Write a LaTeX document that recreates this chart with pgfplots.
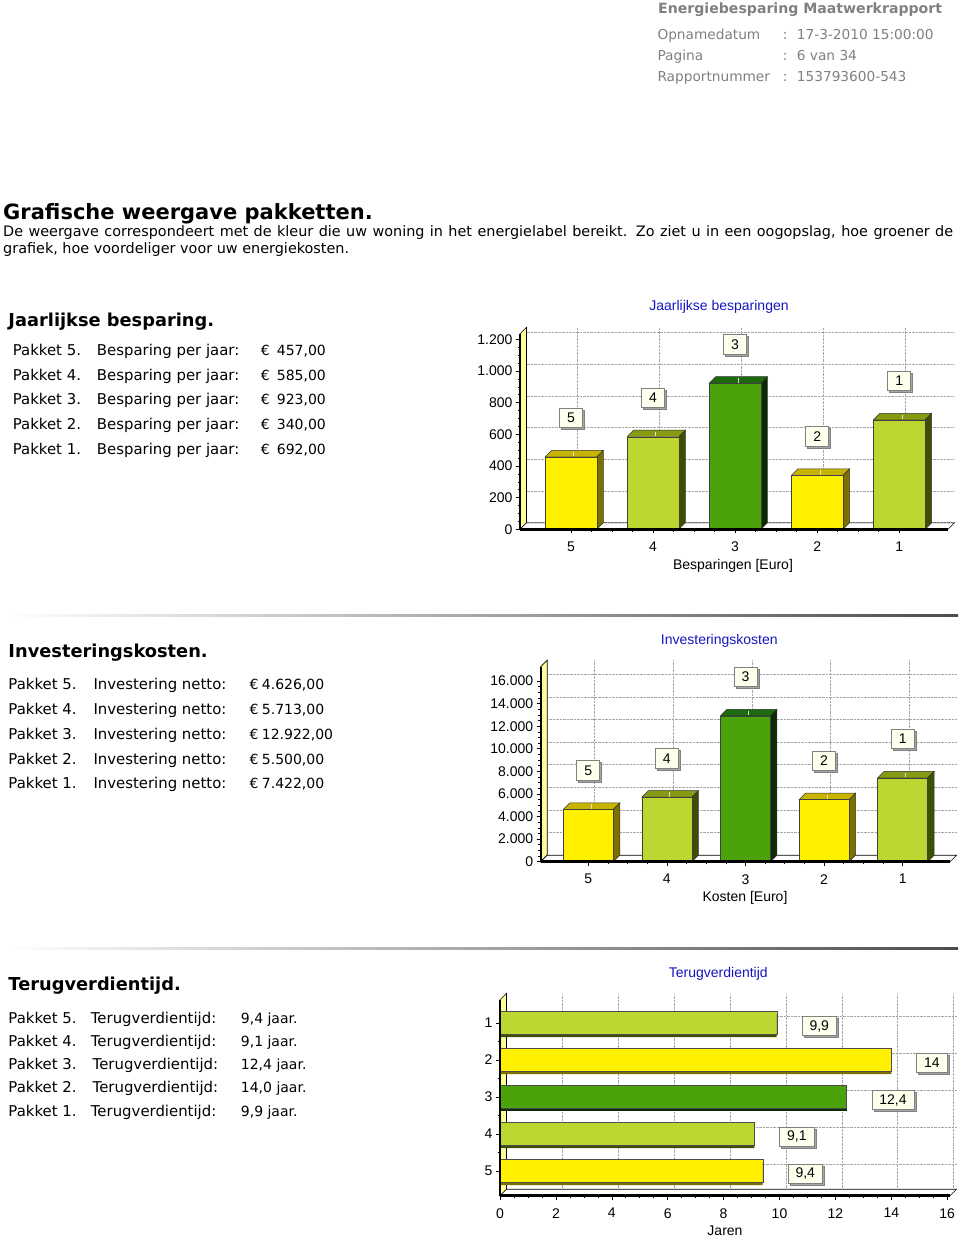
\documentclass[border=0pt]{standalone}
\usepackage{fontspec}
\setmainfont{Liberation Sans}
\newfontfamily\dv{DejaVu Sans}
\usepackage{pgfplots}
\pgfplotsset{compat=1.18}
\usetikzlibrary{shadows}

\definecolor{yfront}{HTML}{FFF000}
\definecolor{ytop}{HTML}{C8B400}
\definecolor{yside}{HTML}{7D7000}
\definecolor{lfront}{HTML}{BED631}
\definecolor{ltop}{HTML}{879A12}
\definecolor{lside}{HTML}{3D5000}
\definecolor{dfront}{HTML}{4CA20B}
\definecolor{dtop}{HTML}{1C6A0C}
\definecolor{dside}{HTML}{0B2B03}
\definecolor{wallc}{HTML}{FFFF99}
\definecolor{boxfill}{HTML}{FFFFEE}
\definecolor{titleblue}{HTML}{1515C0}
\definecolor{hdrgray}{HTML}{808080}

\tikzset{valbox/.style={draw=black!50, fill=boxfill, line width=0.6pt,
  inner xsep=7.5pt, inner ysep=0pt, minimum height=19.5pt, minimum width=23pt,
  font=\fontsize{14}{14}\selectfont, text=black,
  drop shadow={shadow xshift=2pt, shadow yshift=-2pt, fill=black!35, opacity=1}}}

\pgfplotsset{barchart/.style={
  scale only axis, clip=false,
  axis x line*=bottom, axis y line*=left,
  axis line style={black, line width=1.5pt},
  tick align=outside, major tick length=4pt, minor tick length=2.5pt,
  tick style={black, line width=0.6pt},
  major grid style={densely dotted, black!35, line width=0.8pt, xshift=6.5pt, yshift=6.5pt},
  xmajorgrids, ymajorgrids,
  tick label style={font=\fontsize{14}{14}\selectfont},
  xticklabel style={yshift=-5pt},
  /pgf/number format/.cd, assume math mode=true, use comma, 1000 sep={.},
  /pgfplots/.cd, scaled ticks=false,
}}

% 3D top and side of a vertical bar: x, value, top colour, side colour, half width
\newcommand\tdbar[5]{%
  \filldraw[fill=#3, draw=black!80, line width=0.5pt]
    ([xshift=-#5]axis cs:#1,#2) -- ([xshift=#5]axis cs:#1,#2)
    -- ([xshift={#5+6.5pt}, yshift=6.5pt]axis cs:#1,#2)
    -- ([xshift={-#5+6.5pt}, yshift=6.5pt]axis cs:#1,#2) -- cycle;
  \filldraw[fill=#4, draw=black!80, line width=0.5pt]
    ([xshift=#5]axis cs:#1,#2) -- ([xshift={#5+6.5pt}, yshift=6.5pt]axis cs:#1,#2)
    -- ([xshift={#5+6.5pt}, yshift=6.5pt]axis cs:#1,0) -- ([xshift=#5]axis cs:#1,0) -- cycle;
  \draw[white!75!gray, line width=1pt] ([xshift=3pt, yshift=0.5pt]axis cs:#1,#2) -- ([xshift=3pt, yshift=5pt]axis cs:#1,#2);
}
\newcommand\wallfloor{%
  \filldraw[fill=wallc, draw=black, line width=0.6pt] (rel axis cs:0,0) -- (rel axis cs:0,1)
    -- ([shift={(6.5pt,6.5pt)}]rel axis cs:0,1) -- ([shift={(6.5pt,6.5pt)}]rel axis cs:0,0) -- cycle;
  \filldraw[fill=white, draw=black, line width=0.6pt] (rel axis cs:0,0) -- (rel axis cs:1,0)
    -- ([shift={(6.5pt,6.5pt)}]rel axis cs:1,0) -- ([shift={(6.5pt,6.5pt)}]rel axis cs:0,0) -- cycle;
}
\newcommand\frontlines{%
  \draw[line width=2.5pt] (rel axis cs:0,0) -- (rel axis cs:1,0);
  \draw[line width=1.8pt] (rel axis cs:0,0) -- (rel axis cs:0,1);
}
\newcommand\T[4]{\node[anchor=base west, inner sep=0pt, font=#1] at (#2,#3) {#4};}
\newcommand\fr{\dv\fontsize{14.9}{14.9}\selectfont}
\newcommand\fv{\dv\fontsize{14}{14}\selectfont}
\newcommand\fh{\dv\bfseries\fontsize{17.8}{17.8}\selectfont}
\newcommand\fg{\color{hdrgray}\dv\fontsize{13.7}{13.7}\selectfont}

\begin{document}
\begin{tikzpicture}
\useasboundingbox (0,0) rectangle (960pt,-1237pt);

\begin{scope}[x=1pt, y=-1pt]
% header
\T{\color{hdrgray}\dv\bfseries\fontsize{14.1}{14.1}\selectfont}{658}{13.3}{Energiebesparing Maatwerkrapport}
\T{\fg}{657.3}{39.3}{Opnamedatum}
\T{\fg}{782.7}{39.3}{:}
\T{\fg}{796.7}{39.3}{17-3-2010 15:00:00}
\T{\fg}{657.3}{60}{Pagina}
\T{\fg}{782.7}{60}{:}
\T{\fg}{796.7}{60}{6 van 34}
\T{\fg}{657.3}{81.7}{Rapportnummer}
\T{\fg}{782.7}{81.7}{:}
\T{\fg}{796.7}{81.7}{153793600-543}

% intro
\T{\dv\bfseries\fontsize{21}{21}\selectfont}{3}{219}{Grafische weergave pakketten.}
\T{\dv\fontsize{14.4}{14.4}\selectfont}{3}{236}{\makebox[950pt][s]{De weergave correspondeert met de kleur die uw woning in het energielabel bereikt. Zo ziet u in een oogopslag, hoe groener de}}
\T{\dv\fontsize{14.4}{14.4}\selectfont}{3}{253.3}{grafiek, hoe voordeliger voor uw energiekosten.}

% section 1
\T{\fh}{8.3}{326}{Jaarlijkse besparing.}
\T{\fr}{12.7}{355}{Pakket 5.}
\T{\fr}{12.7}{380}{Pakket 4.}
\T{\fr}{12.7}{404.3}{Pakket 3.}
\T{\fr}{12.7}{429}{Pakket 2.}
\T{\fr}{12.7}{454}{Pakket 1.}
\T{\fr}{96.7}{355}{Besparing per jaar:}
\T{\fr}{96.7}{380}{Besparing per jaar:}
\T{\fr}{96.7}{404.3}{Besparing per jaar:}
\T{\fr}{96.7}{429}{Besparing per jaar:}
\T{\fr}{96.7}{454}{Besparing per jaar:}
\T{\fv}{260.7}{355}{€}
\T{\fv}{260.7}{380}{€}
\T{\fv}{260.7}{404.3}{€}
\T{\fv}{260.7}{429}{€}
\T{\fv}{260.7}{454}{€}
\T{\fv}{276.7}{355}{457,00}
\T{\fv}{276.7}{380}{585,00}
\T{\fv}{276.7}{404.3}{923,00}
\T{\fv}{276.7}{429}{340,00}
\T{\fv}{276.7}{454}{692,00}

% section 2
\T{\fh}{8.3}{657.3}{Investeringskosten.}
\T{\fr}{8.3}{689.3}{Pakket 5.}
\T{\fr}{8.3}{714}{Pakket 4.}
\T{\fr}{8.3}{739}{Pakket 3.}
\T{\fr}{8.3}{764}{Pakket 2.}
\T{\fr}{8.3}{788.3}{Pakket 1.}
\T{\fr}{93.3}{689.3}{Investering netto:}
\T{\fr}{93.3}{714}{Investering netto:}
\T{\fr}{93.3}{739}{Investering netto:}
\T{\fr}{93.3}{764}{Investering netto:}
\T{\fr}{93.3}{788.3}{Investering netto:}
\T{\fv}{249.3}{689.3}{€}
\T{\fv}{249.3}{714}{€}
\T{\fv}{249.3}{739}{€}
\T{\fv}{249.3}{764}{€}
\T{\fv}{249.3}{788.3}{€}
\T{\fv}{261.7}{689.3}{4.626,00}
\T{\fv}{261.7}{714}{5.713,00}
\T{\fv}{261.7}{739}{12.922,00}
\T{\fv}{261.7}{764}{5.500,00}
\T{\fv}{261.7}{788.3}{7.422,00}

% section 3
\T{\fh}{8.3}{990.7}{Terugverdientijd.}
\T{\fr}{8.3}{1023.3}{Pakket 5.}
\T{\fr}{8.3}{1046}{Pakket 4.}
\T{\fr}{8.3}{1069}{Pakket 3.}
\T{\fr}{8.3}{1092.3}{Pakket 2.}
\T{\fr}{8.3}{1116.7}{Pakket 1.}
\T{\fr}{90.7}{1023.3}{Terugverdientijd:}
\T{\fr}{90.7}{1046}{Terugverdientijd:}
\T{\fr}{92.5}{1069}{Terugverdientijd:}
\T{\fr}{92.5}{1092.3}{Terugverdientijd:}
\T{\fr}{90.7}{1116.7}{Terugverdientijd:}
\T{\fv}{240.7}{1023.3}{9,4 jaar.}
\T{\fv}{240.7}{1046}{9,1 jaar.}
\T{\fv}{240.7}{1069}{12,4 jaar.}
\T{\fv}{240.7}{1092.3}{14,0 jaar.}
\T{\fv}{240.7}{1116.7}{9,9 jaar.}

% separators
\shade[left color=white, middle color=black!30, right color=black!70] (5,614.2) rectangle (958,616);
\shade[left color=white, middle color=black!30, right color=black!70] (5,947.2) rectangle (958,949);

% chart titles and axis labels
\node[font=\fontsize{14}{14}\selectfont, text=titleblue] at (719,307) {Jaarlijkse besparingen};
\node[font=\fontsize{14}{14}\selectfont] at (733,566) {Besparingen [Euro]};
\node[font=\fontsize{14}{14}\selectfont, text=titleblue] at (719.3,640.7) {Investeringskosten};
\node[font=\fontsize{14}{14}\selectfont] at (745,897.7) {Kosten [Euro]};
\node[font=\fontsize{14}{14}\selectfont, text=titleblue] at (718.3,974) {Terugverdientijd};
\node[font=\fontsize{14}{14}\selectfont] at (725,1231) {Jaren};
\end{scope}

% ===== Chart 1: Jaarlijkse besparingen =====
\begin{axis}[barchart,
  at={(520pt,-529.3pt)}, anchor=south west,
  width=428pt, height=195.5pt,
  xmin=-0.62, xmax=4.594, ymin=0, ymax=1235,
  xtick={0,1,2,3,4}, xticklabels={5,4,3,2,1}, minor x tick num=3,
  ytick={0,200,400,600,800,1000,1200}, minor y tick num=3,
]
\wallfloor
\tdbar{0}{457}{ytop}{yside}{25.85pt}
\tdbar{1}{585}{ltop}{lside}{25.85pt}
\tdbar{2}{923}{dtop}{dside}{25.85pt}
\tdbar{3}{340}{ytop}{yside}{25.85pt}
\tdbar{4}{692}{ltop}{lside}{25.85pt}
\addplot[ybar, bar width=51.7pt, bar shift=0pt, fill=yfront, draw=black!75,
  point meta=explicit symbolic, nodes near coords,
  every node near coord/.style={valbox, anchor=center, yshift=39pt}]
  coordinates {(0,457)[5] (3,340)[2]};
\addplot[ybar, bar width=51.7pt, bar shift=0pt, fill=lfront, draw=black!75,
  point meta=explicit symbolic, nodes near coords,
  every node near coord/.style={valbox, anchor=center, yshift=39pt}]
  coordinates {(1,585)[4] (4,692)[1]};
\addplot[ybar, bar width=51.7pt, bar shift=0pt, fill=dfront, draw=black!75,
  point meta=explicit symbolic, nodes near coords,
  every node near coord/.style={valbox, anchor=center, yshift=39pt}]
  coordinates {(2,923)[3]};
\frontlines
\end{axis}

% ===== Chart 2: Investeringskosten =====
\begin{axis}[barchart,
  at={(540.7pt,-861.7pt)}, anchor=south west,
  width=409.3pt, height=195pt,
  xmin=-0.605, xmax=4.602, ymin=0, ymax=17270,
  xtick={0,1,2,3,4}, xticklabels={5,4,3,2,1}, minor x tick num=3,
  ytick={0,2000,4000,6000,8000,10000,12000,14000,16000}, minor y tick num=3,
]
\wallfloor
\tdbar{0}{4626}{ytop}{yside}{25pt}
\tdbar{1}{5713}{ltop}{lside}{25pt}
\tdbar{2}{12922}{dtop}{dside}{25pt}
\tdbar{3}{5500}{ytop}{yside}{25pt}
\tdbar{4}{7422}{ltop}{lside}{25pt}
\addplot[ybar, bar width=50pt, bar shift=0pt, fill=yfront, draw=black!75,
  point meta=explicit symbolic, nodes near coords,
  every node near coord/.style={valbox, anchor=center, yshift=39pt}]
  coordinates {(0,4626)[5] (3,5500)[2]};
\addplot[ybar, bar width=50pt, bar shift=0pt, fill=lfront, draw=black!75,
  point meta=explicit symbolic, nodes near coords,
  every node near coord/.style={valbox, anchor=center, yshift=39pt}]
  coordinates {(1,5713)[4] (4,7422)[1]};
\addplot[ybar, bar width=50pt, bar shift=0pt, fill=dfront, draw=black!75,
  point meta=explicit symbolic, nodes near coords,
  every node near coord/.style={valbox, anchor=center, yshift=39pt}]
  coordinates {(2,12922)[3]};
\frontlines
\end{axis}

% ===== Chart 3: Terugverdientijd =====
\begin{axis}[barchart,
  at={(500pt,-1195.7pt)}, anchor=south west,
  width=450pt, height=196pt,
  xmin=0, xmax=16.1, ymin=-0.668, ymax=4.63,
  xtick={0,2,4,6,8,10,12,14,16}, minor x tick num=3,
  ytick={0,1,2,3,4}, yticklabels={5,4,3,2,1}, minor y tick num=1,
]
\wallfloor
\addplot[xbar, bar width=23pt, bar shift=0pt, fill=yside, draw=none, yshift=-2.5pt]
  coordinates {(9.4,0) (14.0,3)};
\addplot[xbar, bar width=23pt, bar shift=0pt, fill=lside, draw=none, yshift=-2.5pt]
  coordinates {(9.1,1) (9.9,4)};
\addplot[xbar, bar width=23pt, bar shift=0pt, fill=dside, draw=none, yshift=-2.5pt]
  coordinates {(12.4,2)};
\addplot[xbar, bar width=23pt, bar shift=0pt, fill=yfront, draw=black!70,
  point meta=x, nodes near coords,
  every node near coord/.style={valbox, anchor=west, xshift=25pt, yshift=-3pt}]
  coordinates {(9.4,0) (14.0,3)};
\addplot[xbar, bar width=23pt, bar shift=0pt, fill=lfront, draw=black!70,
  point meta=x, nodes near coords,
  every node near coord/.style={valbox, anchor=west, xshift=25pt, yshift=-3pt}]
  coordinates {(9.1,1) (9.9,4)};
\addplot[xbar, bar width=23pt, bar shift=0pt, fill=dfront, draw=black!70,
  point meta=x, nodes near coords,
  every node near coord/.style={valbox, anchor=west, xshift=25pt, yshift=-3pt}]
  coordinates {(12.4,2)};
\frontlines
\end{axis}
\end{tikzpicture}
\end{document}
